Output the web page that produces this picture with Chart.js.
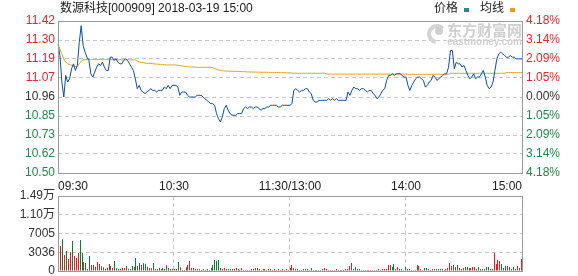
<!DOCTYPE html>
<html>
<head>
<meta charset="utf-8">
<script src="https://cdn.jsdelivr.net/npm/chart.js@4/dist/chart.umd.min.js"></script>
<style>
    html, body { margin: 0; padding: 0; background: #fff; }
    #wrap { position: relative; width: 578px; height: 276px; }
    #wrap canvas { position: absolute; left: 0; top: 0; }
</style>
</head>
<body>
<div id="wrap">
    <canvas id="priceChart" width="578" height="276"></canvas>
    <canvas id="volumeChart" width="578" height="276"></canvas>
</div>
<script>
// Header / legend texts
const stockTitle = '数源科技[000909] 2018-03-19 15:00';
const seriesNames = ['价格', '均线'];

// Previous close and daily range
const preClose = 10.96;
const limitPct = 4.18;

// Tick labels
const timeTickLabels = ['09:30', '10:30', '11:30/13:00', '14:00', '15:00'];
const priceTickLabels = ['10.50', '10.62', '10.73', '10.85', '10.96', '11.07', '11.19', '11.30', '11.42'];
const pctTickLabels = ['4.18%', '3.14%', '2.09%', '1.05%', '0.00%', '1.05%', '2.09%', '3.14%', '4.18%'];
const volumeTickLabels = ['0', '3036', '7005', '1.10万', '1.49万'];
const volumeMax = 14900;

// Minute prices (241 points, 09:30 .. 15:00)
const priceValues = [
    11.28, 11.21, 11.05, 10.96, 11.09, 11.05, 11.07, 11.13, 11.16, 11.12,
    11.15, 11.29, 11.39, 11.27, 11.23, 11.20, 11.18, 11.10, 11.08, 11.11,
    11.14, 11.16, 11.15, 11.17, 11.14, 11.12, 11.12, 11.20, 11.20, 11.18,
    11.19, 11.17, 11.16, 11.16, 11.18, 11.19, 11.18, 11.16, 11.14, 11.12,
    11.07, 11.01, 11.03, 11.00, 10.99, 10.98, 10.99, 11.00, 11.01, 11.00,
    11.00, 10.99, 11.00, 11.00, 11.00, 11.02, 11.01, 11.03, 11.01, 11.03,
    11.03, 11.03, 11.02, 10.97, 10.99, 10.99, 10.99, 10.97, 10.96, 10.96,
    10.96, 10.96, 10.97, 10.97, 10.97, 10.96, 10.95, 10.94, 10.93, 10.92,
    10.92, 10.91, 10.86, 10.83, 10.81, 10.84, 10.89, 10.91, 10.88, 10.86,
    10.85, 10.85, 10.85, 10.86, 10.86, 10.86, 10.89, 10.90, 10.89, 10.90,
    10.90, 10.89, 10.90, 10.90, 10.89, 10.88, 10.89, 10.89, 10.90, 10.90,
    10.91, 10.91, 10.91, 10.91, 10.90, 10.90, 10.91, 10.91, 10.91, 10.91,
    10.91, 10.92, 11.00, 11.01, 11.00, 10.99, 11.00, 11.00, 11.01, 11.01,
    10.99, 10.98, 10.94, 10.93, 10.93, 10.94, 10.94, 10.94, 10.94, 10.94,
    10.95, 10.94, 10.95, 10.94, 10.95, 10.94, 10.94, 10.94, 10.94, 10.94,
    10.99, 10.97, 11.00, 11.02, 11.01, 11.01, 11.00, 11.01, 11.01, 11.00,
    10.99, 11.00, 11.00, 10.98, 10.97, 10.95, 10.96, 10.98, 11.00, 11.01,
    11.06, 11.09, 11.09, 11.10, 11.09, 11.10, 11.10, 11.10, 11.09, 11.08,
    11.08, 11.03, 11.00, 11.03, 11.05, 11.07, 11.08, 11.08, 11.07, 11.06,
    11.02, 11.03, 11.05, 11.06, 11.09, 11.08, 11.06, 11.07, 11.08, 11.09,
    11.10, 11.10, 11.14, 11.24, 11.24, 11.13, 11.17, 11.16, 11.16, 11.14,
    11.15, 11.12, 11.09, 11.07, 11.08, 11.10, 11.07, 11.08, 11.08, 11.10,
    11.12, 11.08, 11.03, 11.01, 11.02, 11.05, 11.12, 11.19, 11.22, 11.23,
    11.22, 11.21, 11.20, 11.20, 11.21, 11.20, 11.20, 11.19, 11.19, 11.19, 11.19
];

// Average price line (均线)
const avgValues = [
    11.28, 11.25, 11.22, 11.19, 11.17, 11.16, 11.157, 11.152, 11.148, 11.144,
    11.146, 11.16, 11.176, 11.183, 11.185, 11.185, 11.185, 11.185, 11.185, 11.185,
    11.185, 11.185, 11.185, 11.185, 11.185, 11.185, 11.185, 11.185, 11.185, 11.185,
    11.185, 11.184, 11.184, 11.184, 11.184, 11.184, 11.184, 11.184, 11.184, 11.184,
    11.184, 11.177, 11.171, 11.169, 11.167, 11.165, 11.163, 11.163, 11.161, 11.161,
    11.159, 11.159, 11.157, 11.157, 11.155, 11.155, 11.153, 11.153, 11.153, 11.153,
    11.153, 11.153, 11.151, 11.149, 11.147, 11.145, 11.144, 11.143, 11.142, 11.141,
    11.140, 11.140, 11.139, 11.139, 11.139, 11.139, 11.139, 11.139, 11.139, 11.139,
    11.137, 11.131, 11.127, 11.123, 11.121, 11.119, 11.117, 11.116, 11.116, 11.115,
    11.115, 11.115, 11.114, 11.114, 11.114, 11.113, 11.113, 11.112, 11.111, 11.111,
    11.111, 11.110, 11.110, 11.110, 11.110, 11.109, 11.109, 11.109, 11.109, 11.109,
    11.108, 11.108, 11.108, 11.108, 11.108, 11.107, 11.107, 11.107, 11.106, 11.106,
    11.106, 11.104, 11.104, 11.103, 11.103, 11.103, 11.103, 11.103, 11.103, 11.103,
    11.103, 11.103, 11.103, 11.103, 11.103, 11.103, 11.103, 11.103, 11.103, 11.098,
    11.098, 11.098, 11.098, 11.098, 11.098, 11.098, 11.098, 11.098, 11.098, 11.098,
    11.098, 11.098, 11.098, 11.098, 11.098, 11.098, 11.098, 11.098, 11.098, 11.098,
    11.098, 11.098, 11.098, 11.098, 11.098, 11.098, 11.098, 11.098, 11.098, 11.098,
    11.098, 11.098, 11.098, 11.098, 11.098, 11.098, 11.098, 11.098, 11.098, 11.098,
    11.098, 11.097, 11.097, 11.097, 11.097, 11.097, 11.097, 11.097, 11.097, 11.097,
    11.097, 11.097, 11.097, 11.097, 11.097, 11.097, 11.097, 11.097, 11.097, 11.097,
    11.097, 11.097, 11.097, 11.103, 11.103, 11.103, 11.103, 11.103, 11.103, 11.103,
    11.103, 11.103, 11.103, 11.103, 11.103, 11.103, 11.103, 11.103, 11.103, 11.103,
    11.103, 11.103, 11.103, 11.103, 11.103, 11.103, 11.103, 11.103, 11.103, 11.103,
    11.103, 11.103, 11.107, 11.107, 11.107, 11.107, 11.107, 11.107, 11.107, 11.107, 11.107
];

// Minute volumes (shares)
const volumeValues = [
    13100, 4970, 6290, 3180, 3970, 2380, 3780, 5960, 2980, 2580,
    3580, 6160, 3580, 1790, 1590, 400, 2980, 1190, 1190, 860,
    1790, 1390, 930, 730, 460, 660, 1390, 990, 600, 1990,
    530, 400, 460, 600, 600, 990, 460, 400, 990, 860,
    2580, 990, 1590, 1190, 1520, 1460, 860, 530, 530, 1590,
    400, 400, 600, 400, 530, 400, 1130, 600, 400, 400,
    400, 400, 1790, 730, 200, 200, 730, 1190, 1990, 600,
    600, 400, 400, 400, 200, 400, 200, 400, 200, 600,
    1190, 2190, 2050, 2190, 600, 400, 600, 400, 400, 400,
    400, 400, 600, 400, 200, 600, 200, 200, 200, 200,
    400, 400, 600, 600, 400, 200, 400, 400, 200, 400,
    400, 200, 400, 200, 400, 200, 400, 200, 400, 200,
    600, 1190, 600, 400, 400, 200, 200, 400, 400, 400,
    200, 600, 200, 200, 200, 200, 200, 400, 600, 400,
    200, 200, 200, 200, 400, 200, 200, 200, 200, 400,
    400, 990, 1590, 400, 800, 400, 400, 200, 200, 200,
    200, 200, 200, 200, 200, 200, 400, 200, 400, 400,
    400, 1190, 1190, 800, 1390, 400, 800, 400, 400, 200,
    800, 400, 400, 200, 200, 200, 1190, 990, 400, 200,
    600, 600, 400, 200, 400, 400, 400, 400, 400, 400,
    200, 400, 600, 1590, 990, 1190, 800, 1190, 600, 400,
    600, 800, 800, 600, 600, 800, 800, 400, 800, 400,
    400, 400, 800, 800, 400, 400, 3580, 1390, 2250, 1990,
    1390, 600, 990, 990, 800, 400, 800, 400, 990, 600, 2380
];

// r = price up (red bar), g = price down (green bar)
const volumeUpDown = [
    'grgrgrrgrr', 'rggrgrgrrg', 'rrgrgrrgrg', 'grrrrggrgg', 'grgrggrrrg',
    'rrgrrgrgrr', 'rggrrggrrr', 'rrgrgrggrg', 'ggggrrrggg', 'rgrrgrrrgr',
    'rgrgrrgrrg', 'rrrgrrrgrr', 'rrrggrrrgg', 'rggrgrgrrr', 'grgrrgrrrr',
    'rrrggggrgr', 'rrrgggrgrr', 'rrggggrggr', 'gggrrgrrgr', 'ggrrgggggg',
    'rrrrrgrgrr', 'rggrrrrggr', 'grggrrrrrr', 'gggrgggrrgr'
].join('').split('');

// Minute categories: 09:30..11:30, 13:01..15:00
const minuteLabels = [];
const pad2 = n => String(n).padStart(2, '0');
const addMinutes = (h, m, count) => {
    for (let k = 0; k < count; k++) {
        const t = h * 60 + m + k;
        minuteLabels.push(pad2(Math.floor(t / 60)) + ':' + pad2(t % 60));
    }
};
addMinutes(9, 30, 121);
addMinutes(13, 1, 120);

// Styling
const FONT_FAMILY = '"Liberation Sans", Arial, "Noto Sans CJK SC", sans-serif';
const RED_TXT = '#e3262e';
const GREEN_TXT = '#23874a';
const DARK_TXT = '#333333';
const GRID_COLOR = '#c8c8c8';
const FRAME_COLOR = '#9a9a9a';
const PRICE_COLOR = '#0d4f9e';
const AVG_COLOR = '#e2a21d';
const LEGEND_PRICE = '#1a8c8a';
const BAR_RED = '#f01818';
const BAR_GREEN = '#0a7d38';

Chart.defaults.font.family = FONT_FAMILY;
Chart.defaults.font.size = 12;

const priceMin = preClose * (1 - limitPct / 100);
const priceMax = preClose * (1 + limitPct / 100);

const tickColor = (ctx) => ctx.index < 4 ? GREEN_TXT : (ctx.index > 4 ? RED_TXT : DARK_TXT);
const evenTicks = (labels, lo, hi) => labels.map((_, k) => ({ value: lo + k * (hi - lo) / (labels.length - 1) }));

const drawFrame = (chart) => {
    const { ctx, chartArea: a } = chart;
    ctx.save();
    ctx.strokeStyle = FRAME_COLOR;
    ctx.lineWidth = 1;
    ctx.strokeRect(a.left + 0.5, a.top + 0.5, a.right - a.left, a.bottom - a.top);
    ctx.restore();
};

const priceDecor = {
    id: 'priceDecor',
    beforeDatasetsDraw(chart) {
        const { ctx, chartArea: a } = chart;
        // watermark
        ctx.save();
        ctx.fillStyle = '#cfcfcf';
        ctx.strokeStyle = '#d4d4d4';
        ctx.lineWidth = 4;
        ctx.beginPath();
        ctx.arc(a.right - 85, 34, 8, Math.PI * 0.55, Math.PI * 1.75);
        ctx.stroke();
        ctx.beginPath();
        ctx.arc(a.right - 83, 31, 4, 0, Math.PI * 2);
        ctx.fill();
        ctx.textBaseline = 'middle';
        ctx.textAlign = 'right';
        ctx.font = 'bold 15px "Noto Sans CJK SC", sans-serif';
        ctx.fillText('东方财富网', a.right, 30);
        ctx.font = 'bold 10px ' + FONT_FAMILY;
        ctx.fillText('eastmoney.com', a.right, 42);
        ctx.restore();
    },
    afterDatasetsDraw(chart) {
        drawFrame(chart);
    },
    afterDraw(chart) {
        const { ctx, chartArea: a } = chart;
        ctx.save();
        ctx.font = '12px ' + FONT_FAMILY;
        ctx.textBaseline = 'middle';
        ctx.fillStyle = '#222';
        ctx.fillText(stockTitle, a.left + 2, 9);
        // legend: text then small colour block
        const colors = [LEGEND_PRICE, AVG_COLOR];
        let x = a.right - 88;
        seriesNames.forEach((name, k) => {
            ctx.fillStyle = '#222';
            ctx.fillText(name, x, 9);
            x += ctx.measureText(name).width + 6;
            ctx.fillStyle = colors[k];
            ctx.fillRect(x, 8, 5, 4);
            x += 16;
        });
        ctx.restore();
    }
};

new Chart(document.getElementById('priceChart'), {
    type: 'line',
    data: {
        labels: minuteLabels,
        datasets: [
            { label: seriesNames[0], data: priceValues, borderColor: PRICE_COLOR, borderWidth: 1, pointRadius: 0, tension: 0, yAxisID: 'y' },
            { label: seriesNames[1], data: avgValues, borderColor: AVG_COLOR, borderWidth: 1, pointRadius: 0, tension: 0, yAxisID: 'y' }
        ]
    },
    options: {
        responsive: false,
        animation: false,
        events: [],
        layout: { padding: { top: 21, left: 0, right: 0, bottom: 80 } },
        plugins: { legend: { display: false }, tooltip: { enabled: false } },
        scales: {
            x: {
                type: 'category',
                offset: false,
                grid: {
                    color: (c) => (c.index % 60 === 0 && c.index > 0 && c.index < 240) ? GRID_COLOR : 'transparent',
                    drawTicks: false
                },
                border: { display: false, dash: [4, 3] },
                ticks: {
                    autoSkip: false,
                    maxRotation: 0,
                    minRotation: 0,
                    align: 'inner',
                    padding: 6,
                    color: '#222',
                    callback: (v, i) => (i % 60 === 0 ? timeTickLabels[i / 60] : null)
                },
                afterFit: (s) => { s.height = 23; s.paddingLeft = 0; s.paddingRight = 0; }
            },
            y: {
                position: 'left',
                min: priceMin,
                max: priceMax,
                afterBuildTicks: (s) => { s.ticks = evenTicks(priceTickLabels, priceMin, priceMax); },
                grid: { color: GRID_COLOR, drawTicks: false },
                border: { display: false, dash: [4, 3] },
                ticks: { padding: 3, color: tickColor, callback: (v, i) => priceTickLabels[i] },
                afterFit: (s) => { s.width = 58; s.paddingTop = 0; s.paddingBottom = 0; }
            },
            y2: {
                position: 'right',
                min: priceMin,
                max: priceMax,
                afterBuildTicks: (s) => { s.ticks = evenTicks(pctTickLabels, priceMin, priceMax); },
                grid: { display: false, drawTicks: false },
                border: { display: false },
                ticks: { padding: 4, color: tickColor, callback: (v, i) => pctTickLabels[i] },
                afterFit: (s) => { s.width = 56; s.paddingTop = 0; s.paddingBottom = 0; }
            }
        }
    },
    plugins: [priceDecor]
});

// Snap the 1px volume bars to whole pixels so they stay crisp
const snapBars = {
    id: 'snapBars',
    afterDatasetsUpdate(chart) {
        chart.getDatasetMeta(0).data.forEach(el => { el.x = Math.floor(el.x) + 0.5; });
    },
    afterDatasetsDraw: drawFrame
};

new Chart(document.getElementById('volumeChart'), {
    type: 'bar',
    data: {
        labels: minuteLabels,
        datasets: [{
            data: volumeValues,
            backgroundColor: volumeUpDown.map(d => (d === 'r' ? BAR_RED : BAR_GREEN)),
            barThickness: 1,
            inflateAmount: 0,
            xAxisID: 'x',
            yAxisID: 'y'
        }]
    },
    options: {
        responsive: false,
        animation: false,
        events: [],
        layout: { padding: { top: 196, left: 0, right: 56, bottom: 5 } },
        plugins: { legend: { display: false }, tooltip: { enabled: false } },
        scales: {
            x: {
                type: 'category',
                offset: true,
                display: false
            },
            xg: {
                type: 'category',
                position: 'bottom',
                offset: false,
                grid: {
                    color: (c) => (c.index % 60 === 0 && c.index > 0 && c.index < 240) ? GRID_COLOR : 'transparent',
                    drawTicks: false
                },
                border: { display: false, dash: [4, 3] },
                ticks: { display: false },
                afterFit: (s) => { s.height = 0; s.paddingLeft = 0; s.paddingRight = 0; }
            },
            y: {
                position: 'left',
                min: 0,
                max: volumeMax,
                afterBuildTicks: (s) => { s.ticks = evenTicks(volumeTickLabels, 0, volumeMax); },
                grid: {
                    color: (c) => (c.index > 0 && c.index < 4) ? GRID_COLOR : 'transparent',
                    drawTicks: false
                },
                border: { display: false, dash: [4, 3] },
                ticks: { padding: 3, color: DARK_TXT, callback: (v, i) => volumeTickLabels[i] },
                afterFit: (s) => { s.width = 58; s.paddingTop = 0; s.paddingBottom = 0; }
            }
        }
    },
    plugins: [snapBars]
});
</script>
</body>
</html>
